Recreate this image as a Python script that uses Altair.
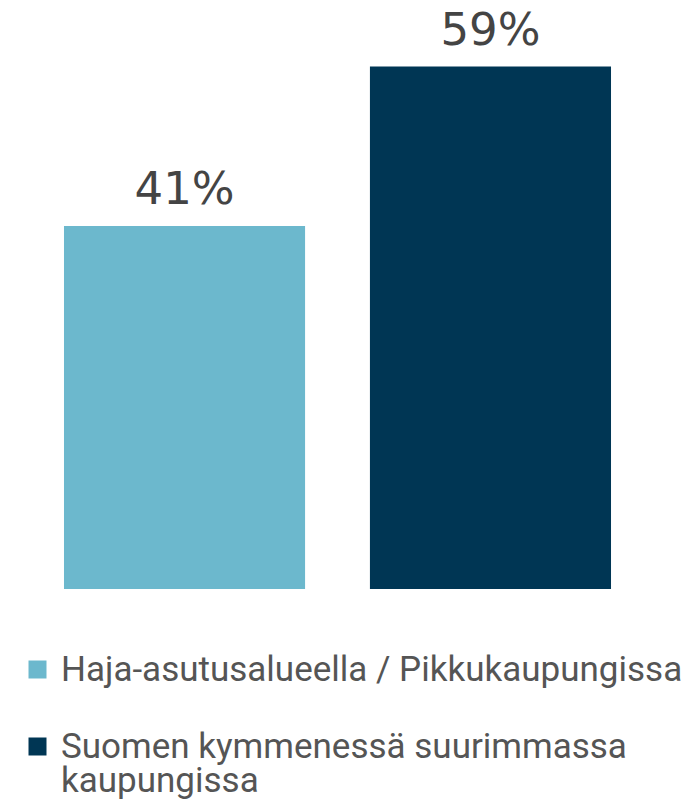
import altair as alt
import pandas as pd

categories = ["Haja-asutusalueella / Pikkukaupungissa",
              "Suomen kymmenessä suurimmassa kaupungissa"]
values = [41, 59]
labels = ["41%", "59%"]
colors = ["#6cb8cd", "#003654"]

df = pd.DataFrame({"cat": categories, "value": values, "label": labels})

label_expr = ("datum.label == 'Suomen kymmenessä suurimmassa kaupungissa' ? "
              "['Suomen kymmenessä suurimmassa', 'kaupungissa'] : datum.label")

base = alt.Chart(df).encode(
    x=alt.X("cat:N", sort=categories, axis=None,
            scale=alt.Scale(paddingInner=0.212, paddingOuter=0.183)),
    y=alt.Y("value:Q", axis=None, scale=alt.Scale(domain=[0, 65.5])),
)

bars = base.mark_bar().encode(
    color=alt.Color(
        "cat:N",
        scale=alt.Scale(domain=categories, range=colors),
        legend=alt.Legend(
            orient="none", legendX=12, legendY=643, direction="vertical",
            title=None, symbolType="square", symbolSize=324,
            symbolStrokeWidth=0, labelFont="Roboto",
            labelFontSize=35, labelColor="#555555", labelLimit=1000,
            labelOffset=6, rowPadding=41, padding=0, labelExpr=label_expr,
        ),
    )
)

text = base.mark_text(
    dy=-22, baseline="alphabetic", fontSize=45, font="DejaVu Sans",
    color="#444444",
).encode(text="label:N")

chart = (bars + text).properties(width=659, height=580, padding=0).configure(
    view={"stroke": None},
    style={"guide-label": {"lineHeight": 34}},
)

chart.save("out.html", embed_options={"renderer": "svg", "actions": False})
